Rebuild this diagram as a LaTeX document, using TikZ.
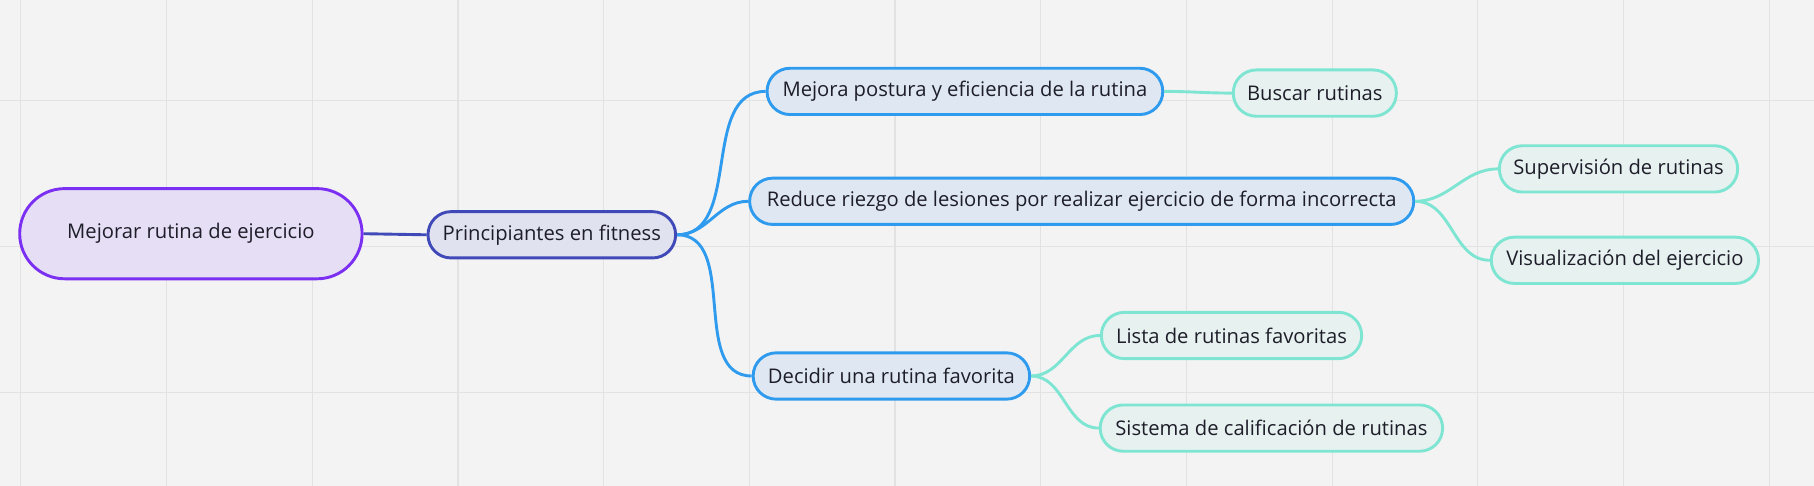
\documentclass[tikz,border=0pt]{standalone}
\usepackage{fontspec}
\setmainfont{Open Sans}
\usetikzlibrary{positioning,calc}

\definecolor{canvas}{HTML}{F3F3F3}
\definecolor{gridline}{HTML}{E2E2E2}
\definecolor{inktext}{HTML}{1E1E2A}
\definecolor{rootdraw}{HTML}{7B2FF2}
\definecolor{rootfill}{HTML}{E6DEF5}
\definecolor{onedraw}{HTML}{4049B8}
\definecolor{onefill}{HTML}{E1E2F0}
\definecolor{twodraw}{HTML}{2F9BEE}
\definecolor{twofill}{HTML}{DFE8F2}
\definecolor{threedraw}{HTML}{7DE5D2}
\definecolor{threefill}{HTML}{E7F1EF}

\begin{document}
\begin{tikzpicture}[x=1pt,y=-1pt,
    topic/.style={rectangle,line width=2.9pt,text=inktext,inner sep=0pt,
        font=\fontsize{20.2}{24}\selectfont,minimum height=46.3pt,rounded corners=23pt},
    roottopic/.style={topic,draw=rootdraw,fill=rootfill,minimum height=90.2pt,rounded corners=45pt},
    leveltopic/.style={topic,draw=onedraw,fill=onefill},
    subtopic/.style={topic,draw=twodraw,fill=twofill},
    leaftopic/.style={topic,draw=threedraw,fill=threefill},
    branch/.style={line width=2.9pt,out=0,in=180}]

        % background and grid
        \fill[canvas] (0,0) rectangle (1814,486);
        \useasboundingbox (0,0) rectangle (1814,486);
        \foreach \gx in {0,...,12}
            \draw[gridline,line width=1.2pt] ({20.8+145.7*\gx},0) -- ({20.8+145.7*\gx},486);
        \foreach \gy in {0,...,2}
            \draw[gridline,line width=1.2pt] (0,{100.7+145.7*\gy}) -- (1814,{100.7+145.7*\gy});

        % topics
        \node[roottopic,minimum width=342.4pt] (rutina) at (190.9,233.7) {Mejorar rutina de ejercicio};
        \node[leveltopic,minimum width=247.6pt] (principiantes) at (551.8,234.8) {Principiantes en fitness};

        \node[subtopic,minimum width=395.7pt] (postura) at (964.9,91.4) {Mejora postura y eficiencia de la rutina};
        \node[subtopic,minimum width=664.1pt] (lesiones) at (1081.7,201.3) {Reduce riezgo de lesiones por realizar ejercicio de forma incorrecta};
        \node[subtopic,minimum width=276.5pt] (favorita) at (891.4,376.0) {Decidir una rutina favorita};

        \node[leaftopic,minimum width=163.1pt] (buscar) at (1314.8,93.1) {Buscar rutinas};
        \node[leaftopic,minimum width=238.3pt] (supervision) at (1618.5,168.9) {Supervisión de rutinas};
        \node[leaftopic,minimum width=267.2pt] (visualizacion) at (1624.9,260.3) {Visualización del ejercicio};
        \node[leaftopic,minimum width=260.3pt] (lista) at (1231.5,335.5) {Lista de rutinas favoritas};
        \node[leaftopic,minimum width=342.4pt] (sistema) at (1271.4,428.1) {Sistema de calificación de rutinas};

        % connectors
        \draw[onedraw,line width=2.9pt] (rutina.east) -- (principiantes.west);

        \draw[twodraw,branch] (principiantes.east) to (postura.west);
        \draw[twodraw,branch] (principiantes.east) to (lesiones.west);
        \draw[twodraw,branch] (principiantes.east) to (favorita.west);

        \draw[threedraw,branch] (postura.east) to (buscar.west);
        \draw[threedraw,branch] (lesiones.east) to (supervision.west);
        \draw[threedraw,branch] (lesiones.east) to (visualizacion.west);
        \draw[threedraw,branch] (favorita.east) to (lista.west);
        \draw[threedraw,branch] (favorita.east) to (sistema.west);
    \end{tikzpicture}
\end{document}
